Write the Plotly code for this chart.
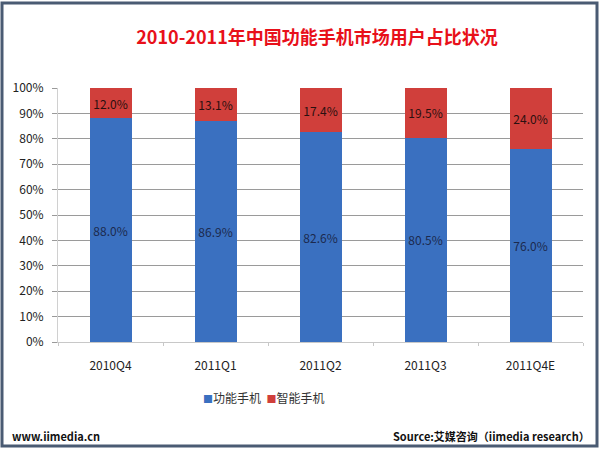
import plotly.graph_objects as go

categories = ["2010Q4", "2011Q1", "2011Q2", "2011Q3", "2011Q4E"]
feature_phone = [88.0, 86.9, 82.6, 80.5, 76.0]
smart_phone = [12.0, 13.1, 17.4, 19.5, 24.0]
y_ticks = [0, 10, 20, 30, 40, 50, 60, 70, 80, 90, 100]
y_tick_labels = [f"{v}%" for v in y_ticks]
series_names = ["功能手机", "智能手机"]
series_colors = ["#3a70c0", "#d03f3b"]

W, H = 600, 449
L, R, T, B = 58, 17, 88, 107
pw, ph = W - L - R, H - T - B

font_family = "Noto Sans CJK SC, Noto Sans, sans-serif"

fig = go.Figure()
fig.add_trace(go.Bar(
    x=categories, y=feature_phone, name=series_names[0],
    marker=dict(color=series_colors[0], line=dict(width=0)),
    text=[f"{v:.1f}%" for v in feature_phone],
    textposition="inside", insidetextanchor="middle",
    textfont=dict(color="#1c2a4e", size=12, family=font_family),
    width=0.4,
))
fig.add_trace(go.Bar(
    x=categories, y=smart_phone, name=series_names[1],
    marker=dict(color=series_colors[1], line=dict(width=0)),
    text=[f"{v:.1f}%" for v in smart_phone],
    textposition="inside", insidetextanchor="middle",
    textfont=dict(color="#2a1010", size=12, family=font_family),
    width=0.4,
))

def px(x):
    return (x - L) / pw

def py(y):
    return (H - B - y) / ph

shapes = [
    dict(type="rect", xref="paper", yref="paper",
         x0=px(2), x1=px(597), y0=py(446), y1=py(3),
         line=dict(color="#4a5b73", width=3), fillcolor="rgba(0,0,0,0)", layer="above"),
]

legend_text = "  ".join(
    f"<span style='color:{c};font-size:10px'>■</span>{n}"
    for n, c in zip(series_names, series_colors)
)

fig.update_layout(
    width=W, height=H,
    margin=dict(l=L, r=R, t=T, b=B),
    barmode="stack",
    bargap=0.6,
    paper_bgcolor="white", plot_bgcolor="white",
    font=dict(family=font_family, color="#222222", size=11),
    showlegend=False,
    title=dict(text="<b>2010-2011年中国功能手机市场用户占比状况</b>",
               x=317 / W, xanchor="center", y=1 - 38 / H, yanchor="middle",
               font=dict(size=18, color="#e8101a", family=font_family)),
    shapes=shapes,
    annotations=[
        dict(text=legend_text, xref="paper", yref="paper",
             x=px(263), y=py(397), xanchor="center", yanchor="middle", showarrow=False,
             font=dict(size=12, color="#333333", family=font_family)),
        dict(text="<b>www.iimedia.cn</b>", xref="paper", yref="paper",
             x=px(10), y=py(436), xanchor="left", yanchor="middle", showarrow=False,
             font=dict(size=11, color="#111111", family=font_family)),
        dict(text="<b>Source:艾媒咨询（iimedia research）</b>", xref="paper", yref="paper",
             x=px(592), y=py(436), xanchor="right", yanchor="middle", showarrow=False,
             font=dict(size=11, color="#111111", family=font_family)),
    ],
)
fig.update_yaxes(
    range=[0, 100], tickvals=y_ticks, ticktext=y_tick_labels,
    showgrid=True, gridcolor="#9a9a9a", gridwidth=1,
    ticks="outside", ticklen=5, tickcolor="#9a9a9a",
    showline=True, linecolor="#d0d0d0", linewidth=1,
    zeroline=False, tickfont=dict(size=12, color="#222222"),
    ticklabelstandoff=6,
)
fig.update_xaxes(
    showline=True, linecolor="#c8c8c8", linewidth=1,
    ticks="outside", ticklen=3, tickcolor="#c8c8c8", tickson="boundaries",
    tickfont=dict(size=12, color="#222222"), showgrid=False,
    ticklabelstandoff=13,
)

fig.write_html("out.html")
